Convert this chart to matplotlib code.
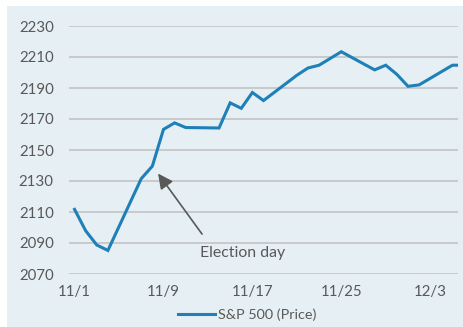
import datetime as dt
import matplotlib
matplotlib.use("Agg")
import matplotlib.pyplot as plt
from matplotlib.patches import Rectangle

# S&P 500 closes, Nov-Dec 2016
dates = ["2016-11-01", "2016-11-02", "2016-11-03", "2016-11-04", "2016-11-07",
         "2016-11-08", "2016-11-09", "2016-11-10", "2016-11-11", "2016-11-14",
         "2016-11-15", "2016-11-16", "2016-11-17", "2016-11-18", "2016-11-21",
         "2016-11-22", "2016-11-23", "2016-11-25", "2016-11-28", "2016-11-29",
         "2016-11-30", "2016-12-01", "2016-12-02", "2016-12-05", "2016-12-06"]
prices = [2111.7, 2097.9, 2088.7, 2085.2, 2131.5,
          2139.6, 2163.3, 2167.5, 2164.5, 2164.2,
          2180.4, 2176.9, 2187.1, 2181.9, 2198.2,
          2202.9, 2204.7, 2213.4, 2201.7, 2204.7,
          2198.8, 2191.1, 2192.0, 2204.7, 2204.7]
tick_dates = ["2016-11-01", "2016-11-09", "2016-11-17", "2016-11-25", "2016-12-03"]
tick_labels = ["11/1", "11/9", "11/17", "11/25", "12/3"]
y_ticks = [2070, 2090, 2110, 2130, 2150, 2170, 2190, 2210, 2230]
series_name = "S&P 500 (Price)"
note = "Election day"

plt.rcParams["font.family"] = ["Lato", "DejaVu Sans"]
text_col = "#595959"
bg = "#e6eff3"
line_col = "#1f80b8"
fs = 10.8

W, H = 464, 327
fig = plt.figure(figsize=(W / 100, H / 100), dpi=100)
fig.patch.set_facecolor("white")
fig.patches.append(Rectangle((7 / W, 0), 1, 1 - 6 / H, transform=fig.transFigure,
                             facecolor=bg, edgecolor="none", zorder=-10))

ax = fig.add_axes([69 / W, 1 - 274 / H, (458 - 69) / W, (274 - 26) / H])
ax.set_facecolor("none")
ax.set_zorder(1)

x = [dt.datetime.strptime(d, "%Y-%m-%d") for d in dates]
line, = ax.plot(x, prices, color=line_col, lw=2.2, solid_joinstyle="miter",
                label=series_name, zorder=3)

half = dt.timedelta(hours=12)
ax.set_xlim(dt.datetime(2016, 11, 1) - half, dt.datetime(2016, 12, 5) + half)
ax.set_ylim(y_ticks[0], y_ticks[-1])
ax.set_yticks(y_ticks)
ax.set_xticks([dt.datetime.strptime(d, "%Y-%m-%d") for d in tick_dates])
ax.set_xticklabels(tick_labels)

ax.grid(axis="y", color="#bfbfbf", lw=1.1)
ax.set_axisbelow(True)
for s in ax.spines.values():
    s.set_visible(False)
ax.tick_params(axis="both", length=0, labelsize=fs, colors=text_col)
ax.tick_params(axis="y", pad=11)
ax.tick_params(axis="x", pad=8)

# arrow + label
ax.annotate("", xy=(0.229, 0.405), xytext=(0.342, 0.161), xycoords="axes fraction",
            arrowprops=dict(arrowstyle="-|>,head_length=0.9,head_width=0.45",
                            color=text_col, lw=1.2, shrinkA=0, shrinkB=0))
ax.text(0.337, 0.085, note, transform=ax.transAxes, fontsize=fs + 0.6,
        color=text_col, va="center", ha="left")

leg = fig.legend(handles=[line], loc="center", bbox_to_anchor=(247 / W, 1 - 315 / H),
                 frameon=False, fontsize=fs - 0.4, handlelength=2.6, handletextpad=0.2,
                 borderpad=0)
for t in leg.get_texts():
    t.set_color(text_col)

fig.savefig("out.png", dpi=100, facecolor=fig.get_facecolor())
